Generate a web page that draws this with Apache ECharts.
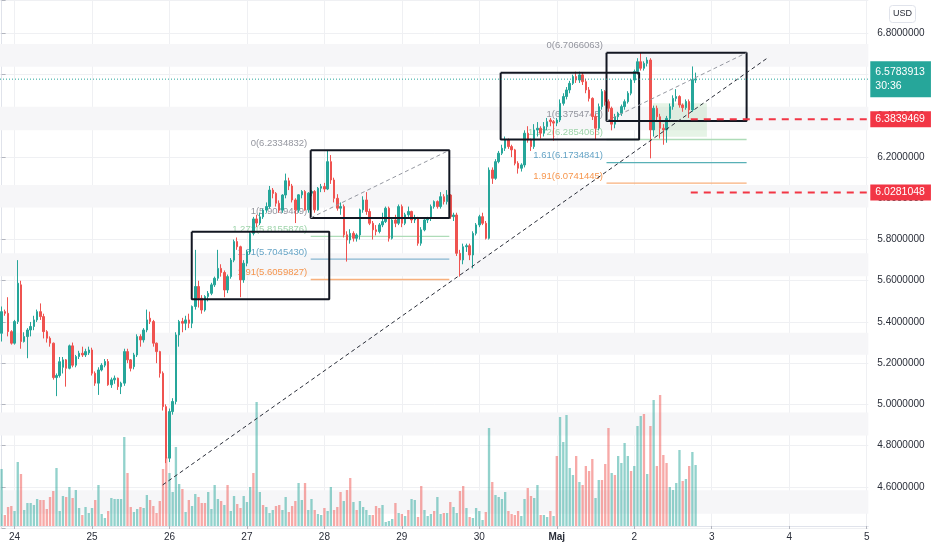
<!DOCTYPE html>
<html><head><meta charset="utf-8">
<script src="https://cdn.jsdelivr.net/npm/echarts/dist/echarts.min.js"></script>
<style>html,body{margin:0;padding:0;background:#fff}#c{width:932px;height:550px}</style>
</head><body><div id="c"></div>
<script>
// ---------- data ----------
const dayLabels = ['24','25','26','27','28','29','30','Maj','2','3','4','5'];
const firstDayIndex = 4;      // hourly bar index of 24 Apr 00:00 (first bar = 23 Apr 20:00)
const hoursTotal = 269;       // hourly slots shown on the time axis (through 5 May 00:00)
const priceTicks = [4.6,4.8,5.0,5.2,5.4,5.6,5.8,6.0,6.2,6.4,6.6,6.8];

// hourly candles: [open, close, low, high]
const ohlc = [
[5.345,5.450,5.305,5.475],[5.450,5.442,5.430,5.460],[5.442,5.353,5.330,5.520],[5.353,5.297,5.290,5.360],
[5.297,5.402,5.290,5.410],[5.402,5.588,5.390,5.700],[5.580,5.305,5.270,5.600],[5.305,5.329,5.300,5.350],
[5.329,5.361,5.224,5.370],[5.361,5.378,5.330,5.400],[5.378,5.410,5.360,5.430],[5.410,5.450,5.400,5.460],
[5.450,5.426,5.410,5.490],[5.426,5.353,5.320,5.440],[5.353,5.321,5.300,5.360],[5.321,5.297,5.280,5.330],
[5.297,5.130,5.120,5.300],[5.130,5.140,5.040,5.150],[5.140,5.207,5.130,5.230],[5.180,5.216,5.150,5.230],
[5.216,5.175,5.086,5.220],[5.175,5.284,5.170,5.290],[5.284,5.190,5.180,5.300],[5.190,5.232,5.180,5.240],
[5.232,5.248,5.220,5.260],[5.248,5.240,5.230,5.280],[5.240,5.256,5.230,5.270],[5.250,5.264,5.240,5.280],
[5.264,5.151,5.140,5.275],[5.151,5.103,5.090,5.160],[5.103,5.167,5.046,5.180],[5.167,5.190,5.160,5.200],
[5.190,5.208,5.180,5.220],[5.208,5.095,5.090,5.220],[5.095,5.119,5.080,5.130],[5.119,5.127,5.100,5.140],
[5.127,5.086,5.070,5.130],[5.086,5.103,5.050,5.110],[5.103,5.256,5.090,5.270],[5.256,5.216,5.200,5.270],
[5.216,5.175,5.160,5.220],[5.183,5.240,5.170,5.250],[5.240,5.329,5.230,5.340],[5.329,5.313,5.280,5.340],
[5.313,5.361,5.300,5.370],[5.361,5.410,5.350,5.460],[5.418,5.402,5.390,5.450],[5.402,5.297,5.280,5.410],
[5.297,5.256,5.200,5.300],[5.256,5.151,5.130,5.260],[5.151,4.989,4.970,5.160],[4.989,4.739,4.715,5.000],
[4.739,4.965,4.720,4.980],[4.965,5.014,4.950,5.030],[5.014,5.337,5.000,5.350],[5.337,5.402,5.280,5.410],
[5.402,5.394,5.350,5.420],[5.394,5.410,5.360,5.430],[5.410,5.394,5.370,5.440],[5.394,5.475,5.370,5.480],
[5.475,5.572,5.460,5.750],[5.572,5.515,5.470,5.600],[5.515,5.458,5.440,5.530],[5.458,5.523,5.450,5.530],
[5.523,5.539,5.500,5.550],[5.539,5.580,5.530,5.590],[5.580,5.612,5.570,5.620],[5.612,5.660,5.600,5.750],
[5.660,5.640,5.620,5.680],[5.640,5.555,5.520,5.650],[5.555,5.620,5.540,5.630],[5.620,5.700,5.610,5.710],
[5.700,5.790,5.690,5.800],[5.790,5.765,5.750,5.810],[5.765,5.604,5.520,5.770],[5.604,5.685,5.590,5.700],
[5.685,5.740,5.670,5.750],[5.740,5.830,5.730,5.840],[5.830,5.900,5.820,5.910],[5.900,5.880,5.860,5.920],
[5.880,5.910,5.870,5.930],[5.910,5.943,5.900,5.950],[5.943,5.960,5.930,5.980],[5.960,6.040,5.950,6.060],
[6.040,6.024,6.000,6.050],[6.024,5.976,5.960,6.030],[5.976,5.943,5.930,5.990],[5.943,6.016,5.930,6.020],
[6.016,6.085,6.000,6.120],[6.085,6.060,6.040,6.100],[6.060,5.992,5.980,6.070],[5.992,5.944,5.880,6.000],
[5.944,6.017,5.930,6.020],[6.017,6.033,6.000,6.040],[6.033,5.944,5.940,6.040],[5.944,6.025,5.930,6.030],
[6.025,6.033,6.010,6.040],[6.033,5.944,5.930,6.040],[5.944,6.049,5.940,6.055],[6.049,6.057,6.030,6.070],
[6.057,6.045,6.030,6.075],[6.045,6.178,6.040,6.2335],[6.178,6.089,6.070,6.210],[6.089,6.000,5.980,6.100],
[6.000,5.952,5.940,6.020],[5.952,5.960,5.920,5.980],[5.960,5.823,5.810,5.970],[5.823,5.798,5.693,5.840],
[5.798,5.830,5.780,5.850],[5.830,5.806,5.790,5.840],[5.806,5.822,5.790,5.830],[5.822,5.944,5.800,5.950],
[5.944,5.992,5.930,6.010],[5.992,5.936,5.920,6.030],[5.936,5.879,5.870,5.950],[5.879,5.847,5.800,5.890],
[5.847,5.839,5.820,5.870],[5.839,5.871,5.830,5.880],[5.871,5.887,5.860,5.930],[5.887,5.952,5.880,5.960],
[5.952,5.806,5.790,5.960],[5.806,5.895,5.800,5.900],[5.895,5.879,5.860,5.920],[5.879,5.960,5.870,5.970],
[5.960,5.879,5.860,5.970],[5.879,5.920,5.870,5.930],[5.920,5.936,5.910,5.960],[5.936,5.895,5.880,5.940],
[5.895,5.903,5.880,5.920],[5.903,5.782,5.770,5.910],[5.782,5.847,5.770,5.860],[5.847,5.895,5.840,5.900],
[5.895,5.903,5.880,5.910],[5.903,5.960,5.890,5.970],[5.960,5.984,5.950,5.990],[5.984,5.960,5.950,5.990],
[5.960,6.008,5.950,6.030],[6.008,5.984,5.970,6.020],[5.984,6.016,5.970,6.040],[6.016,5.911,5.900,6.020],
[5.911,5.919,5.890,5.930],[5.919,5.733,5.720,5.930],[5.733,5.701,5.620,5.750],[5.701,5.765,5.680,5.780],
[5.765,5.770,5.740,5.780],[5.770,5.725,5.700,5.780],[5.725,5.830,5.660,5.840],[5.830,5.871,5.820,5.880],
[5.871,5.911,5.860,5.920],[5.911,5.879,5.870,5.930],[5.879,5.806,5.800,5.890],[5.806,6.137,5.800,6.150],
[6.137,6.097,6.070,6.150],[6.097,6.178,6.090,6.190],[6.178,6.219,6.170,6.230],[6.219,6.243,6.210,6.260],
[6.243,6.283,6.230,6.300],[6.283,6.251,6.240,6.290],[6.251,6.235,6.200,6.260],[6.235,6.170,6.160,6.240],
[6.170,6.146,6.120,6.180],[6.146,6.162,6.130,6.170],[6.162,6.316,6.150,6.330],[6.316,6.283,6.270,6.350],
[6.283,6.251,6.230,6.290],[6.251,6.332,6.240,6.360],[6.332,6.340,6.300,6.370],[6.340,6.316,6.290,6.350],
[6.316,6.348,6.300,6.370],[6.348,6.372,6.330,6.390],[6.380,6.372,6.350,6.390],[6.372,6.365,6.280,6.380],
[6.365,6.380,6.350,6.390],[6.380,6.461,6.370,6.480],[6.461,6.494,6.450,6.510],[6.494,6.526,6.480,6.540],
[6.526,6.558,6.510,6.570],[6.558,6.591,6.550,6.600],[6.591,6.574,6.560,6.615],[6.574,6.599,6.560,6.615],
[6.599,6.566,6.550,6.610],[6.566,6.526,6.510,6.580],[6.526,6.485,6.470,6.540],[6.485,6.397,6.380,6.490],
[6.397,6.340,6.283,6.410],[6.340,6.445,6.330,6.460],[6.445,6.518,6.430,6.530],[6.518,6.469,6.450,6.525],
[6.469,6.437,6.420,6.480],[6.437,6.360,6.330,6.445],[6.360,6.396,6.340,6.410],[6.396,6.413,6.380,6.420],
[6.413,6.445,6.400,6.455],[6.445,6.469,6.430,6.480],[6.469,6.510,6.460,6.520],[6.510,6.574,6.500,6.580],
[6.574,6.615,6.560,6.625],[6.615,6.663,6.600,6.680],[6.663,6.631,6.620,6.7066],[6.631,6.655,6.620,6.665],
[6.655,6.671,6.640,6.685],[6.671,6.332,6.194,6.680],[6.332,6.437,6.300,6.450],[6.437,6.396,6.380,6.450],
[6.396,6.340,6.290,6.410],[6.340,6.332,6.260,6.360],[6.332,6.388,6.270,6.400],[6.388,6.445,6.370,6.460],
[6.445,6.485,6.430,6.500],[6.485,6.494,6.470,6.530],[6.494,6.453,6.440,6.500],[6.453,6.440,6.420,6.460],
[6.440,6.470,6.430,6.480],[6.470,6.429,6.390,6.480],[6.429,6.574,6.420,6.640],[6.574,6.5783913,6.560,6.610]
];

// hourly volume (relative) and its bar direction (1 = up/teal, 0 = down/red)
const volume = [
57,11,19,20,15,64,52,16,23,23,21,27,26,26,17,29,35,58,15,30,29,39,28,36,18,11,19,13,18,26,41,12,8,15,28,27,27,27,89,53,
19,14,17,19,18,31,26,20,13,25,57,69,53,34,79,42,37,14,26,20,32,29,23,23,34,17,41,27,25,21,41,15,30,22,18,30,24,39,53,124,
34,21,19,13,16,20,21,16,29,14,20,25,43,26,43,16,27,16,12,11,18,15,39,16,19,34,25,36,48,24,16,25,19,16,11,11,20,18,21,4,
5,7,23,13,12,10,16,27,26,9,40,16,10,12,15,29,12,13,13,24,19,13,35,40,18,9,8,18,15,6,14,98,44,31,29,27,34,15,12,11,
15,10,27,38,30,28,41,11,11,9,15,10,70,109,84,111,58,51,70,44,41,60,55,67,28,46,46,62,98,53,51,70,63,83,70,55,60,100,110,112,
52,100,126,60,131,71,63,39,36,43,76,45,47,60,74,61
];
const volumeUp = [
1,0,0,0,1,1,0,1,1,1,1,1,0,0,0,0,0,1,1,1,0,1,0,1,1,0,1,1,1,0,1,1,1,0,1,1,1,1,1,0,
0,1,1,0,1,1,0,0,0,0,0,0,1,1,1,1,0,1,0,1,1,0,0,0,1,1,1,1,0,1,0,1,1,0,0,1,1,1,0,1,
1,0,1,1,1,0,0,1,1,0,0,0,1,1,0,1,1,0,1,1,0,1,1,0,0,0,1,0,0,1,0,1,1,1,1,0,0,0,1,1,
1,1,0,1,0,1,0,1,1,0,0,1,1,1,0,1,1,0,1,0,1,1,0,0,1,0,1,1,1,1,0,1,0,1,1,1,1,0,0,0,
0,1,1,0,0,1,1,0,1,1,0,1,0,1,1,1,1,1,0,1,0,0,0,0,1,1,0,0,0,1,0,1,1,1,1,0,1,1,1,0,
1,0,1,0,0,0,0,1,1,1,1,0,1,0,1,1
];

const lastPrice = 6.5783913;
const countdown = '30:36';
const alertLevels = [6.3839469, 6.0281048];
const alertFromHour = 213.5;

// fibonacci extension drawings: [level, price]
const fibA = { fromHour: 95.75, toHour: 138.7, levels: [[0,6.2334832],[1,5.9049489],[1.272,5.8155876],[1.61,5.7045430],[1.91,5.6059827]] };
const fibB = { fromHour: 187.4, toHour: 230.8, levels: [[0,6.7066063],[1,6.3754745],[1.272,6.2854066],[1.61,6.1734841],[1.91,6.0741445]] };

// rectangles: [fromHour, toHour, topPrice, bottomPrice]
const boxes = [[58.9,101.5,5.838,5.510],[95.75,138.7,6.2335,5.905],[154.6,197.5,6.610,6.285],[187.4,230.8,6.7066,6.3755]];
const boxDiagonals = [[[95.75,5.905],[138.7,6.2335]],[[187.4,6.3755],[230.8,6.7066]]];
const trendLine = [[49.9,4.609],[237.7,6.686]];
const zone = [201.8,218.5,6.461,6.299];
const bands = [[6.749,6.638],[6.445,6.330],[6.065,5.955],[5.733,5.622],[5.348,5.241],[4.960,4.849],[4.583,4.469]];

// ---------- chart ----------
const FONT = 'Liberation Sans, Arial, sans-serif';
const UP = '#26a69a', DOWN = '#ef5350';
const cats = []; for (let i = 0; i < hoursTotal; i++) cats.push(String(i));
const isDay = (i) => i >= firstDayIndex && (i - firstDayIndex) % 24 === 0;
const gridR = 932 - 868.3;

const levelLabelColor = { 0:'#787b86', 1:'#787b86', 1.272:'#86c995', 1.61:'#3d8cb6', 1.91:'#f57c21' };
const levelLineColorA = { 1.272:'#aedcb8', 1.61:'#86b6d2', 1.91:'#f8b07c' };
const levelLineColorB = { 1.272:'#aedcb8', 1.61:'#58b0b6', 1.91:'#f8b07c' };

const series = [];

// background bands
series.push({ type:'line', xAxisIndex:1, yAxisIndex:0, data:[], z:0, silent:true,
  markArea:{ silent:true, itemStyle:{ color:'#f6f6f8' }, data: bands.map(b => [{yAxis:b[0]},{yAxis:b[1]}]) } });

// green zone
series.push({ type:'line', xAxisIndex:1, yAxisIndex:0, data:[], z:1, silent:true,
  markArea:{ silent:true, itemStyle:{ color:'rgba(76,175,80,0.14)' }, data:[[{coord:[zone[0],zone[2]]},{coord:[zone[1],zone[3]]}]] } });

// fib lines + labels
[[fibA, levelLineColorA],[fibB, levelLineColorB]].forEach(([f, lc]) => {
  f.levels.forEach(([lv, p]) => {
    if (lc[lv]) {
      series.push({ type:'line', xAxisIndex:1, yAxisIndex:0, z:1, silent:true, symbol:'none',
        lineStyle:{ color: lc[lv], width:1.3 }, data:[[f.fromHour,p],[f.toHour,p]] });
    }
  });
  series.push({ type:'scatter', xAxisIndex:1, yAxisIndex:0, z:1, silent:true, symbolSize:1,
    itemStyle:{ color:'rgba(0,0,0,0)' },
    data: f.levels.map(([lv, p]) => ({ value:[f.fromHour, p],
      label:{ show:true, position:'left', distance:3, offset:[0,-7], fontSize:9.5, fontFamily:FONT,
        color: levelLabelColor[lv], formatter: lv + '(' + p.toFixed(7) + ')' } })) });
});

// volume
series.push({ type:'bar', xAxisIndex:2, yAxisIndex:1, z:2, barWidth:'72%', silent:true,
  data: volume.map((v, i) => ({ value:v, itemStyle:{ color: volumeUp[i] ? 'rgba(38,166,154,0.5)' : 'rgba(239,83,80,0.5)' } })) });

// candles
series.push({ type:'candlestick', xAxisIndex:0, yAxisIndex:0, z:3, barWidth:'62%', silent:true,
  itemStyle:{ color:UP, color0:DOWN, borderColor:UP, borderColor0:DOWN, borderWidth:1 },
  data: ohlc });

// boxes
boxes.forEach(b => {
  series.push({ type:'line', xAxisIndex:1, yAxisIndex:0, z:4, silent:true, symbol:'none',
    lineStyle:{ color:'#131722', width:2 },
    data:[[b[0],b[2]],[b[1],b[2]],[b[1],b[3]],[b[0],b[3]],[b[0],b[2]]] });
});
boxDiagonals.forEach(d => {
  series.push({ type:'line', xAxisIndex:1, yAxisIndex:0, z:4, silent:true, symbol:'none',
    lineStyle:{ color:'#9598a1', width:1, type:[4,3] }, data:d });
});
series.push({ type:'line', xAxisIndex:1, yAxisIndex:0, z:4, silent:true, symbol:'none',
  lineStyle:{ color:'#2a2e39', width:1, type:[4,3] }, data:trendLine });

// alert lines with price tags
alertLevels.forEach(p => {
  series.push({ type:'line', xAxisIndex:1, yAxisIndex:0, z:5, silent:true, symbol:'none',
    lineStyle:{ color:'#f23645', width:2, type:[7,6] }, data:[[alertFromHour,p],[hoursTotal-0.5,p]],
    endLabel:{ show:true, distance:2, formatter: p.toFixed(7), color:'#fff', backgroundColor:'#f23645',
      fontSize:10.5, fontFamily:FONT, padding:[3,6,2,5] } });
});

// last price line with tag
series.push({ type:'line', xAxisIndex:1, yAxisIndex:0, z:5, silent:true, symbol:'none',
  lineStyle:{ color:UP, width:1, type:[1,2] }, data:[[-0.5,lastPrice],[hoursTotal-0.5,lastPrice]],
  endLabel:{ show:true, distance:2, color:'#fff', backgroundColor:UP, padding:[4,6,4,5],
    fontSize:10.5, fontFamily:FONT, lineHeight:14,
    formatter: lastPrice.toFixed(7) + '\n' + countdown } });

const option = {
  animation:false,
  backgroundColor:'#ffffff',
  grid:[
    { left:0, right:gridR, top:0, bottom:22 },
    { left:0, right:gridR, top:0, bottom:24 }
  ],
  xAxis:[
    { type:'category', gridIndex:0, data:cats, boundaryGap:true, show:false },
    { type:'value', gridIndex:0, min:-0.5, max:hoursTotal-0.5, show:false, position:'top' },
    { type:'category', gridIndex:1, data:cats, boundaryGap:true,
      axisLine:{ show:true, lineStyle:{ color:'#e0e3eb' } },
      axisTick:{ show:true, alignWithLabel:true, interval:(i)=>isDay(i), length:3, lineStyle:{ color:'#b2b5be' } },
      splitLine:{ show:true, alignWithLabel:true, interval:(i)=>isDay(i), lineStyle:{ color:'#eff0f3' } },
      axisLabel:{ interval:(i)=>isDay(i), margin:6, fontSize:10, fontFamily:FONT, color:'#2a2e39',
        formatter:(v, i) => { const t = dayLabels[(i - firstDayIndex) / 24]; return t === 'Maj' ? '{b|Maj}' : t; },
        rich:{ b:{ fontWeight:'bold', fontSize:10, fontFamily:FONT, color:'#2a2e39' } } } }
  ],
  yAxis:[
    { type:'value', gridIndex:0, position:'right', min:4.4, max:6.9625, interval:0.2,
      axisLine:{ show:true, lineStyle:{ color:'#e0e3eb' } },
      axisTick:{ show:true, length:4, lineStyle:{ color:'#b2b5be' } },
      splitLine:{ show:true, lineStyle:{ color:'#eff0f3' } },
      axisLabel:{ margin:9, fontSize:10, fontFamily:FONT, color:'#2a2e39',
        formatter:(v) => priceTicks.some(t => Math.abs(t - v) < 1e-6) ? v.toFixed(7) : '' } },
    { type:'value', gridIndex:1, position:'right', min:0, max:526, show:false }
  ],
  graphic:[
    { type:'rect', left:889, top:5, shape:{ width:26, height:17, r:3 }, style:{ fill:'#fff', stroke:'#e0e3eb', lineWidth:1 }, z:10 },
    { type:'text', left:893, top:9, style:{ text:'USD', fontSize:9, fontFamily:FONT, fill:'#2a2e39' }, z:11 }
  ],
  series
};
echarts.init(document.getElementById('c'), null, { renderer:'canvas' }).setOption(option);
</script>
</body></html>
